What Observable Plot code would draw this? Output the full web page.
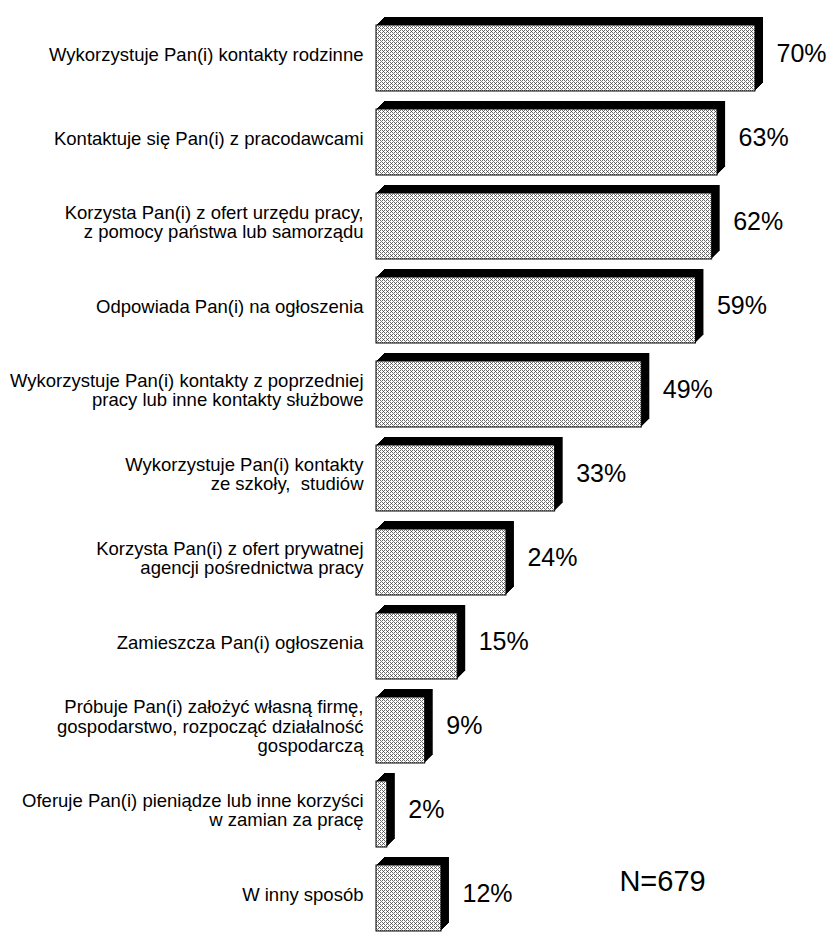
<!DOCTYPE html>
<html>
<head>
<meta charset="utf-8">
<script src="https://cdn.jsdelivr.net/npm/d3@7"></script>
<script src="https://cdn.jsdelivr.net/npm/@observablehq/plot@0.6"></script>
<style>
  html, body { margin: 0; padding: 0; background: white; }
  #chart { width: 835px; height: 933px; overflow: hidden; }
</style>
</head>
<body>
<div id="chart"></div>
<script>
const categories = [
  "Wykorzystuje Pan(i) kontakty rodzinne",
  "Kontaktuje się Pan(i) z pracodawcami",
  "Korzysta Pan(i) z ofert urzędu pracy,\nz pomocy państwa lub samorządu",
  "Odpowiada Pan(i) na ogłoszenia",
  "Wykorzystuje Pan(i) kontakty z poprzedniej\npracy lub inne kontakty służbowe",
  "Wykorzystuje Pan(i) kontakty\nze szkoły,  studiów",
  "Korzysta Pan(i) z ofert prywatnej\nagencji pośrednictwa pracy",
  "Zamieszcza Pan(i) ogłoszenia",
  "Próbuje Pan(i) założyć własną firmę,\ngospodarstwo, rozpocząć działalność\ngospodarczą",
  "Oferuje Pan(i) pieniądze lub inne korzyści\nw zamian za pracę",
  "W inny sposób"
];
const values = [70, 63, 62, 59, 49, 33, 24, 15, 9, 2, 12];
const sampleNote = "N=679";

const data = categories.map((c, i) => ({cat: c, value: values[i]}));

const defsMark = () => {
  const ns = "http://www.w3.org/2000/svg";
  const g = document.createElementNS(ns, "g");
  g.innerHTML = `<defs><pattern id="dots" width="4" height="4" patternUnits="userSpaceOnUse">
    <rect width="4" height="4" fill="#ffffff"/>
    <rect x="0" y="0" width="1" height="1" fill="#6e6e6e"/>
    <rect x="2" y="0" width="1" height="1" fill="#6e6e6e"/>
    <rect x="1" y="1" width="1" height="1" fill="#8a8a8a"/>
    <rect x="0" y="2" width="1" height="1" fill="#6e6e6e"/>
    <rect x="2" y="2" width="1" height="1" fill="#6e6e6e"/>
    <rect x="3" y="3" width="1" height="1" fill="#4a4a4a"/>
  </pattern></defs>`;
  return g;
};

const depth = 8;
const sideMarks = Array.from({length: depth}, (_, k) =>
  Plot.barX(data, {x: "value", y: "cat", fill: "black", dx: k + 1, dy: -(k + 1)})
);

const plot = Plot.plot({
  width: 835,
  height: 933,
  style: {fontFamily: "'Liberation Sans', Arial, sans-serif", background: "white", color: "black"},
  x: {domain: [0, 70], range: [376, 755], axis: null},
  y: {domain: categories, range: [11, 945], paddingInner: 0.211, paddingOuter: 0.1055, axis: null},
  marks: [
    defsMark,
    ...sideMarks,
    Plot.barX(data, {x: "value", y: "cat", fill: "url(#dots)", stroke: "black", strokeWidth: 1}),
    Plot.text(data, {x: 0, y: "cat", text: "cat", textAnchor: "end", dx: -13, dy: -4,
      fontSize: 18.5, lineHeight: 1.05, fill: "black"}),
    Plot.text(data, {x: "value", y: "cat", text: d => d.value + "%", textAnchor: "start",
      dx: 21, dy: -5, fontSize: 25, fill: "black"}),
    Plot.text([sampleNote], {text: d => d, frameAnchor: "bottom-right", dx: -172, dy: -42,
      textAnchor: "middle", fontSize: 29, fill: "black"})
  ]
});
document.getElementById("chart").appendChild(plot);
</script>
</body>
</html>
